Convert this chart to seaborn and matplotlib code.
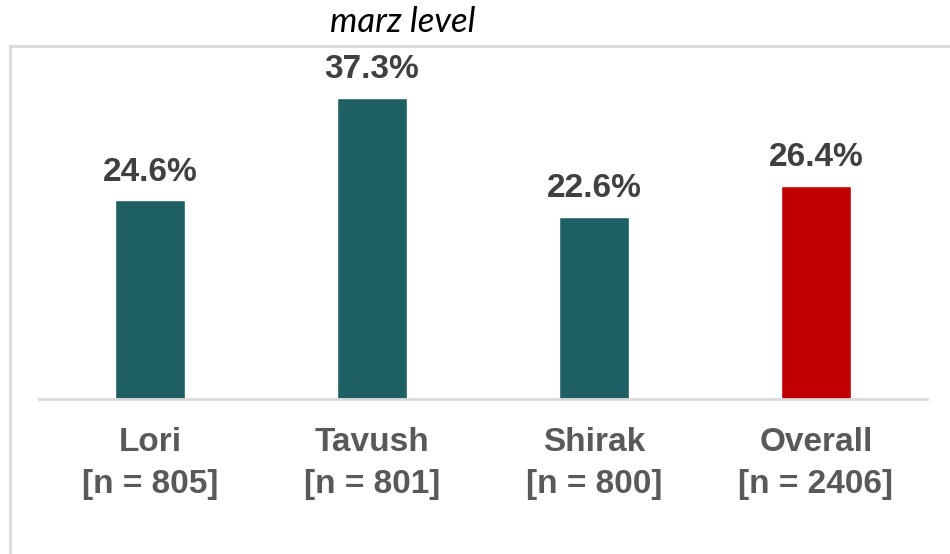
import matplotlib
matplotlib.use("Agg")
import matplotlib.pyplot as plt
from matplotlib.patches import Rectangle
import seaborn as sns
import pandas as pd

regions = ["Lori", "Tavush", "Shirak", "Overall"]
sample_sizes = [805, 801, 800, 2406]
shares = [24.6, 37.3, 22.6, 26.4]
bar_colors = ["#1F6064", "#1F6064", "#1F6064", "#C00000"]
title = "marz level"

sns.set_theme(style="white")
plt.rcParams["font.family"] = ["Liberation Sans", "DejaVu Sans"]

df = pd.DataFrame({
    "label": [f"{r}\n[n = {n}]" for r, n in zip(regions, sample_sizes)],
    "share": shares,
})

fig = plt.figure(figsize=(9.5, 5.54), dpi=100)
ax = fig.add_axes([39 / 950, 155 / 554, 888 / 950, 40 * 8.07 / 554])

sns.barplot(data=df, x="label", y="share", hue="label", palette=bar_colors,
            width=0.315, legend=False, ax=ax, saturation=1)

ax.set_ylim(0, 40)
ax.set_xlim(-0.5, 3.5)
ax.set_xlabel("")
ax.set_ylabel("")
ax.set_yticks([])
for side in ["top", "right", "left"]:
    ax.spines[side].set_visible(False)
ax.spines["bottom"].set_color("#D9D9D9")
ax.spines["bottom"].set_linewidth(2)
ax.tick_params(axis="x", length=0, pad=20)
for t in ax.get_xticklabels():
    t.set_fontsize(24)
    t.set_fontweight("bold")
    t.set_color("#595959")
    t.set_linespacing(1.45)

for i, v in enumerate(shares):
    ax.text(i, v + 1.6, f"{v:.1f}%", ha="center", va="bottom",
            fontsize=24, fontweight="bold", color="#404040", clip_on=False)

# light frame around the chart area
frame = Rectangle((10 / 950, -0.2), 1.2, 1.2 - 46 / 554,
                  transform=fig.transFigure, fill=False,
                  edgecolor="#D9D9D9", linewidth=2)
fig.patches.append(frame)

fig.text(403 / 950, 1 - 22 / 554, title, ha="center", va="center",
         fontsize=25, style="italic", family=["Lato", "DejaVu Sans"],
         color="black")

fig.savefig("out.png", dpi=100)
